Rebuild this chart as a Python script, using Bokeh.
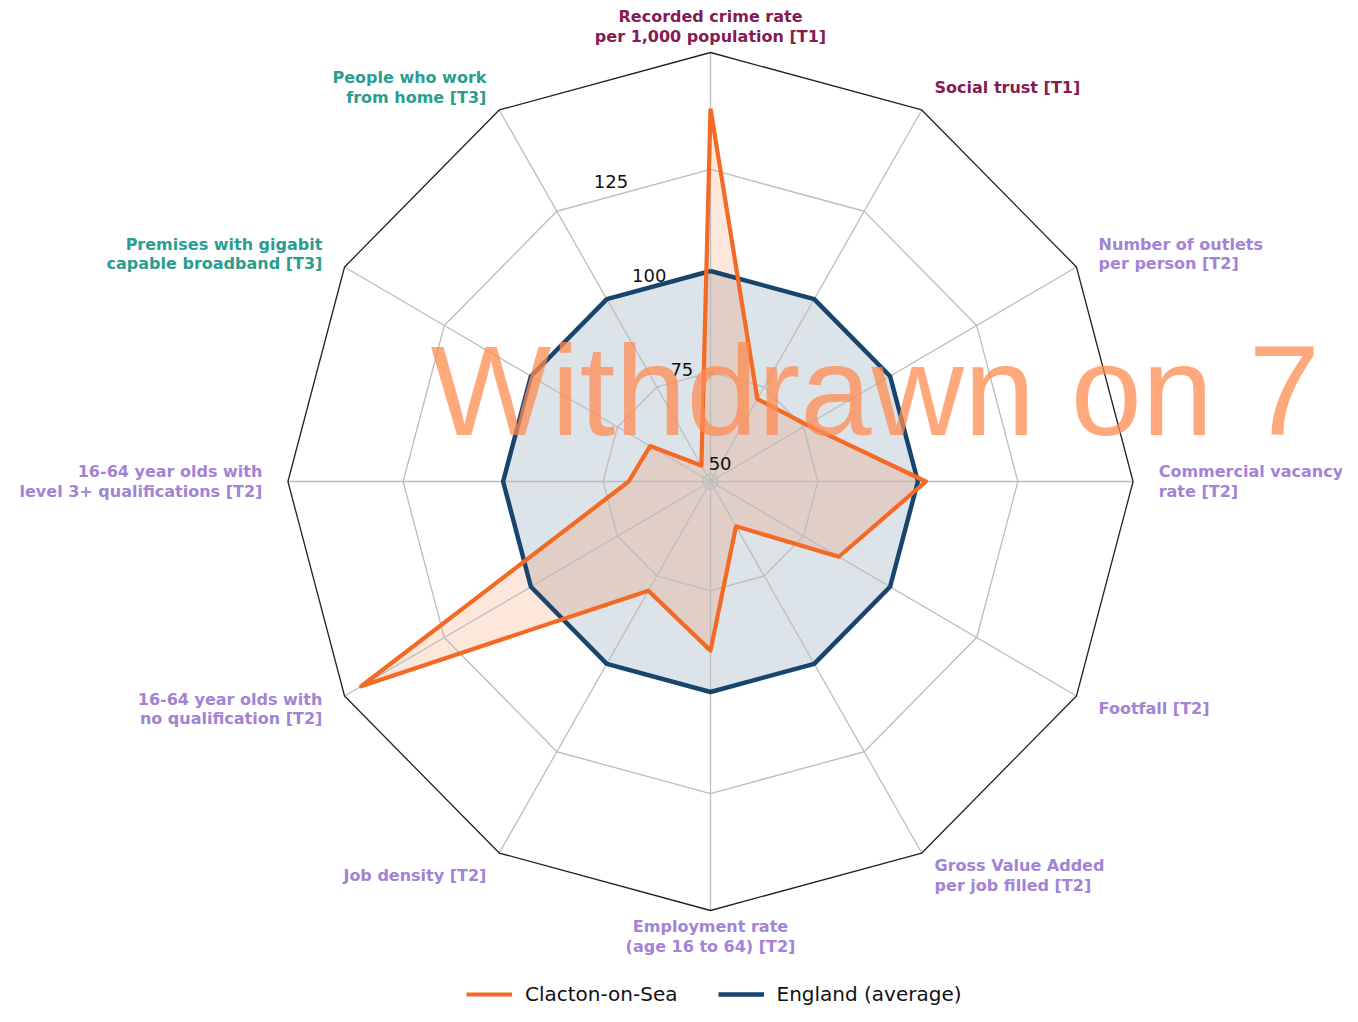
import numpy as np
from bokeh.plotting import figure
from bokeh.models import ColumnDataSource, Range1d, Legend, LegendItem
from bokeh.core.properties import value
from bokeh.embed import file_html
from bokeh.resources import INLINE

# ---------------- data ----------------
categories = [
    "Recorded crime rate\nper 1,000 population [T1]",
    "Social trust [T1]",
    "Number of outlets\nper person [T2]",
    "Commercial vacancy\nrate [T2]",
    "Footfall [T2]",
    "Gross Value Added\nper job filled [T2]",
    "Employment rate\n(age 16 to 64) [T2]",
    "Job density [T2]",
    "16-64 year olds with\nno qualification [T2]",
    "16-64 year olds with\nlevel 3+ qualifications [T2]",
    "Premises with gigabit\ncapable broadband [T3]",
    "People who work\nfrom home [T3]",
]
tiers = ["T1", "T1", "T2", "T2", "T2", "T2", "T2", "T2", "T2", "T2", "T3", "T3"]
clacton = [140.0, 71.6, 76.0, 102.0, 85.2, 60.9, 89.8, 79.2, 149.0, 68.6, 65.6, 52.7]
england = [100, 100, 100, 100, 100, 100, 100, 100, 100, 100, 100, 100]
ring_ticks = [50, 75, 100, 125]
tick_labels = ["50", "75", "100", "125"]
series_names = ["Clacton-on-Sea", "England (average)"]

# ---------------- styling / geometry ----------------
tier_colors = {"T1": "#861A52", "T2": "#A283D5", "T3": "#2A9D8F"}
ORANGE = "#F46A25"
NAVY = "#17456E"
R_MIN, R_MAX = 48.15, 153.8     # radial axis range
OUTER_PX = 429.0                 # outer radius in px
K = OUTER_PX / (R_MAX - R_MIN)
LABEL_R = 160.2                  # radius at which axis labels are anchored
SX = 0.985                       # horizontal px per data unit

W, H = 1342, 1006
CX, CY = 710, 481                # centre in figure px (from top-left)

n = len(categories)
theta = np.arange(n) * 2 * np.pi / n


def polar(vals, ang):
    r = (np.asarray(vals, dtype=float) - R_MIN) * K
    return r * np.sin(ang), r * np.cos(ang)


p = figure(width=W, height=H, output_backend="svg", toolbar_location=None,
           x_range=Range1d(-CX / SX, (W - CX) / SX),
           y_range=Range1d(-(H - CY), CY),
           x_axis_type=None, y_axis_type=None, min_border=0)
p.outline_line_color = None
p.grid.visible = False
p.background_fill_color = "white"

# fills
ex, ey = polar(england, theta)
cxs, cys = polar(clacton, theta)
p.patch(list(ex), list(ey), fill_color=NAVY, fill_alpha=0.15, line_color=None)
p.patch(list(cxs), list(cys), fill_color=ORANGE, fill_alpha=0.17, line_color=None)

# grid rings
closed = np.append(theta, theta[0])
for t in ring_ticks:
    gx, gy = polar([t] * (n + 1), closed)
    p.line(list(gx), list(gy), line_color="#BDBDBD", line_width=1.3)
# spokes
for a in theta:
    sx_, sy_ = polar([R_MIN, R_MAX], np.array([a, a]))
    p.line(list(sx_), list(sy_), line_color="#BDBDBD", line_width=1.3)
# outer frame
ox, oy = polar([R_MAX] * (n + 1), closed)
p.line(list(ox), list(oy), line_color="#222222", line_width=1.3)

# series lines
elx, ely = polar(england + [england[0]], closed)
clx, cly = polar(clacton + [clacton[0]], closed)
r_eng = p.line(list(elx), list(ely), line_color=NAVY, line_width=4.5, line_join="round")
r_cla = p.line(list(clx), list(cly), line_color=ORANGE, line_width=4.2, line_join="round")

# radial tick labels (at 22.5 deg from top, counter-clockwise)
rl_ang = -np.pi / 8
tx, ty = polar(ring_ticks, np.full(len(ring_ticks), rl_ang))
p.text(x=list(tx + 1), y=list(ty + 11.5), text=tick_labels,
       text_font=value("DejaVu Sans"), text_font_size="18px", text_color="#111111",
       text_align="left", text_baseline="middle")

# category labels
lx, ly = polar([LABEL_R] * n, theta)
aligns = []
for a in theta:
    s = np.sin(a)
    aligns.append("center" if abs(s) < 1e-6 else ("left" if s > 0 else "right"))
lab_src = ColumnDataSource(dict(x=list(lx), y=list(ly), text=categories,
                                align=aligns, color=[tier_colors[t] for t in tiers]))
p.text(x="x", y="y", text="text", source=lab_src, text_align="align",
       text_baseline="middle", text_color="color",
       text_font=value("DejaVu Sans"), text_font_style="bold",
       text_font_size="16px", text_line_height=1.05)

# legend
legend = Legend(items=[LegendItem(label=series_names[0], renderers=[r_cla]),
                       LegendItem(label=series_names[1], renderers=[r_eng])],
                orientation="horizontal", location=(466, 0),
                glyph_width=46, glyph_height=20, label_standoff=13, spacing=40,
                padding=0, margin=0, border_line_alpha=0, background_fill_alpha=0,
                label_text_font="DejaVu Sans", label_text_font_size="20px",
                label_text_color="#111111")
p.add_layout(legend, "center")

# watermark
p.text(x=[(430 - CX) / SX], y=[CY - 390], text=["Withdrawn on 7"],
       text_font=value("Liberation Sans"), text_font_size="128px",
       text_color="#FF8B50", text_alpha=0.75,
       text_align="left", text_baseline="alphabetic")

open("out.html", "w").write(file_html(p, INLINE))
